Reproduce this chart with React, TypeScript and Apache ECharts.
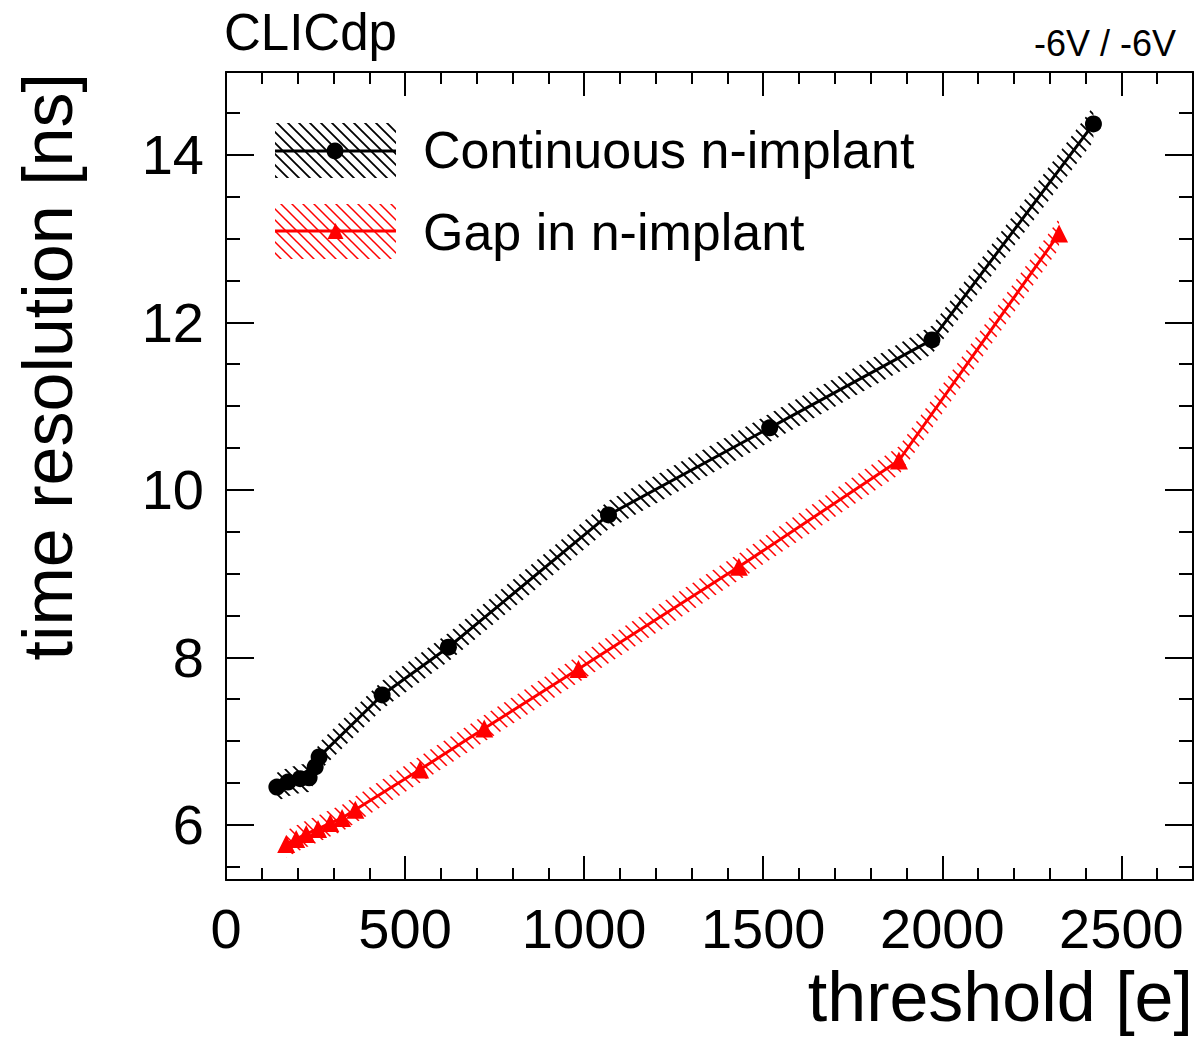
import React, { useEffect, useRef } from "react";
import * as echarts from "echarts";

// ---- data ----
const contThreshold = [142, 173, 207, 232, 249, 260, 436, 621, 1068, 1518, 1971, 2422];
const contResolution = [6.45, 6.51, 6.55, 6.56, 6.69, 6.81, 7.55, 8.12, 9.7, 10.74, 11.79, 14.37];
const contError = [0.17, 0.17, 0.17, 0.17, 0.17, 0.17, 0.17, 0.17, 0.17, 0.17, 0.17, 0.21];

const gapThreshold = [168, 196, 224, 257, 291, 324, 361, 542, 721, 984, 1432, 1879, 2326];
const gapResolution = [5.77, 5.83, 5.89, 5.95, 6.02, 6.08, 6.18, 6.66, 7.15, 7.86, 9.08, 10.35, 13.06];
const gapError = [0.16, 0.16, 0.16, 0.16, 0.16, 0.16, 0.16, 0.16, 0.16, 0.16, 0.16, 0.17, 0.18];

const xMajorTicks = [0, 500, 1000, 1500, 2000, 2500];
const xMinorTicks = [100, 200, 300, 400, 600, 700, 800, 900, 1100, 1200, 1300, 1400, 1600, 1700, 1800, 1900, 2100, 2200, 2300, 2400, 2600];
const yMajorTicks = [6, 8, 10, 12, 14];
const yMinorTicks = [5.5, 6.5, 7, 7.5, 8.5, 9, 9.5, 10.5, 11, 11.5, 12.5, 13, 13.5, 14.5];

const seriesNames = ["Continuous n-implant", "Gap in n-implant"];
const xTitle = "threshold [e]";
const yTitle = "time resolution [ns]";

const FONT = "Liberation Sans, Arial, Helvetica, sans-serif";

function makeHatch(color: string, lw: number) {
  const s = 11;
  const c = document.createElement("canvas");
  c.width = s;
  c.height = s;
  const ctx = c.getContext("2d")!;
  ctx.strokeStyle = color;
  ctx.lineWidth = lw;
  ctx.beginPath();
  ctx.moveTo(-2, -2);
  ctx.lineTo(s + 2, s + 2);
  ctx.moveTo(-2, s - 2);
  ctx.lineTo(2, s + 2);
  ctx.moveTo(s - 2, -2);
  ctx.lineTo(s + 2, 2);
  ctx.stroke();
  return { image: c.toDataURL(), repeat: "repeat", imageWidth: s, imageHeight: s } as any;
}

function bandSeries(xs: number[], ys: number[], errs: number[], fill: any) {
  return {
    type: "custom",
    xAxisIndex: 0,
    yAxisIndex: 0,
    silent: true,
    z: 1,
    data: xs.map((x, i) => [x, ys[i] - errs[i], ys[i] + errs[i]]),
    encode: { x: 0, y: [1, 2] },
    renderItem: (params: any, api: any) => {
      if (params.dataIndex !== 0) return null;
      const upper = xs.map((x, i) => api.coord([x, ys[i] + errs[i]]));
      const lower = xs.map((x, i) => api.coord([x, ys[i] - errs[i]])).reverse();
      return {
        type: "polygon",
        shape: { points: upper.concat(lower) },
        style: { fill },
      };
    },
  };
}

function xAxisDef(position: "top" | "bottom", ticks: number[], len: number, labels: boolean, line: boolean) {
  return {
    type: "value",
    position,
    min: 0,
    max: 2700,
    axisLine: { show: line, onZero: false, lineStyle: { color: "#000", width: 2 } },
    axisTick: { show: true, inside: true, length: len, customValues: ticks, lineStyle: { color: "#000", width: 2 } },
    axisLabel: labels
      ? {
          show: true,
          customValues: xMajorTicks,
          formatter: (v: number) => String(v),
          fontSize: 56,
          fontFamily: FONT,
          color: "#000",
          margin: 20,
        }
      : { show: false },
    splitLine: { show: false },
  };
}

function yAxisDef(position: "left" | "right", ticks: number[], len: number, labels: boolean, line: boolean) {
  return {
    type: "value",
    position,
    min: 5.34,
    max: 14.99,
    axisLine: { show: line, onZero: false, lineStyle: { color: "#000", width: 2 } },
    axisTick: { show: true, inside: true, length: len, customValues: ticks, lineStyle: { color: "#000", width: 2 } },
    axisLabel: labels
      ? {
          show: true,
          customValues: yMajorTicks,
          formatter: (v: number) => String(v),
          fontSize: 56,
          fontFamily: FONT,
          color: "#000",
          margin: 22,
        }
      : { show: false },
    splitLine: { show: false },
  };
}

export default function App() {
  const ref = useRef<HTMLDivElement>(null);

  useEffect(() => {
    if (!ref.current) return;
    const chart = echarts.init(ref.current, null, { renderer: "svg" });
    const blackHatch = makeHatch("#000000", 1.8);
    const redHatch = makeHatch("#ff0000", 1.5);
    const blackHatchLegend = makeHatch("#000000", 1.8);
    const redHatchLegend = makeHatch("#ff0000", 1.5);

    chart.setOption({
      animation: false,
      backgroundColor: "#ffffff",
      grid: { left: 226, right: 8, top: 72, bottom: 157, outerBoundsMode: "none", containLabel: false },
      xAxis: [
        xAxisDef("bottom", xMajorTicks, 24, true, true),
        xAxisDef("bottom", xMinorTicks, 12, false, false),
        xAxisDef("top", xMajorTicks, 24, false, true),
        xAxisDef("top", xMinorTicks, 12, false, false),
      ],
      yAxis: [
        yAxisDef("left", yMajorTicks, 28, true, true),
        yAxisDef("left", yMinorTicks, 14, false, false),
        yAxisDef("right", yMajorTicks, 28, false, true),
        yAxisDef("right", yMinorTicks, 14, false, false),
      ],
      series: [
        bandSeries(contThreshold, contResolution, contError, blackHatch),
        bandSeries(gapThreshold, gapResolution, gapError, redHatch),
        {
          type: "line",
          name: seriesNames[0],
          xAxisIndex: 0,
          yAxisIndex: 0,
          silent: true,
          z: 3,
          data: contThreshold.map((x, i) => [x, contResolution[i]]),
          symbol: "circle",
          symbolSize: 17,
          lineStyle: { color: "#000", width: 3 },
          itemStyle: { color: "#000" },
        },
        {
          type: "line",
          name: seriesNames[1],
          xAxisIndex: 0,
          yAxisIndex: 0,
          silent: true,
          z: 3,
          data: gapThreshold.map((x, i) => [x, gapResolution[i]]),
          symbol: "triangle",
          symbolSize: 18,
          lineStyle: { color: "#ff0000", width: 3 },
          itemStyle: { color: "#ff0000" },
        },
      ],
      graphic: [
        // titles
        {
          type: "text",
          x: 224,
          y: 32,
          style: { text: "CLICdp", font: `51px ${FONT}`, fill: "#000", align: "left", verticalAlign: "middle" },
        },
        {
          type: "text",
          x: 1176,
          y: 43,
          style: { text: "-6V / -6V", font: `36px ${FONT}`, fill: "#000", align: "right", verticalAlign: "middle" },
        },
        {
          type: "text",
          x: 1193,
          y: 997,
          style: { text: xTitle, font: `70px ${FONT}`, fill: "#000", align: "right", verticalAlign: "middle" },
        },
        {
          type: "text",
          x: 48,
          y: 73,
          rotation: Math.PI / 2,
          style: { text: yTitle, font: `70px ${FONT}`, fill: "#000", align: "right", verticalAlign: "middle" },
        },
        // legend entry 1
        {
          type: "rect",
          shape: { x: 275, y: 123, width: 121, height: 55 },
          style: { fill: blackHatchLegend },
        },
        {
          type: "line",
          shape: { x1: 275, y1: 151, x2: 396, y2: 151 },
          style: { stroke: "#000", lineWidth: 3 },
        },
        { type: "circle", shape: { cx: 335, cy: 151, r: 8.5 }, style: { fill: "#000" } },
        {
          type: "text",
          x: 423,
          y: 150,
          style: { text: seriesNames[0], font: `52px ${FONT}`, fill: "#000", align: "left", verticalAlign: "middle" },
        },
        // legend entry 2
        {
          type: "rect",
          shape: { x: 275, y: 204, width: 121, height: 55 },
          style: { fill: redHatchLegend },
        },
        {
          type: "line",
          shape: { x1: 275, y1: 231, x2: 396, y2: 231 },
          style: { stroke: "#ff0000", lineWidth: 3 },
        },
        {
          type: "polygon",
          shape: { points: [[335.5, 223], [327.5, 239], [343.5, 239]] },
          style: { fill: "#ff0000" },
        },
        {
          type: "text",
          x: 423,
          y: 232,
          style: { text: seriesNames[1], font: `52px ${FONT}`, fill: "#000", align: "left", verticalAlign: "middle" },
        },
      ],
    } as any);

    return () => chart.dispose();
  }, []);

  return (
    <div
      ref={ref}
      style={{ position: "absolute", left: 0, top: 0, width: 1201, height: 1037, background: "#fff" }}
    />
  );
}
